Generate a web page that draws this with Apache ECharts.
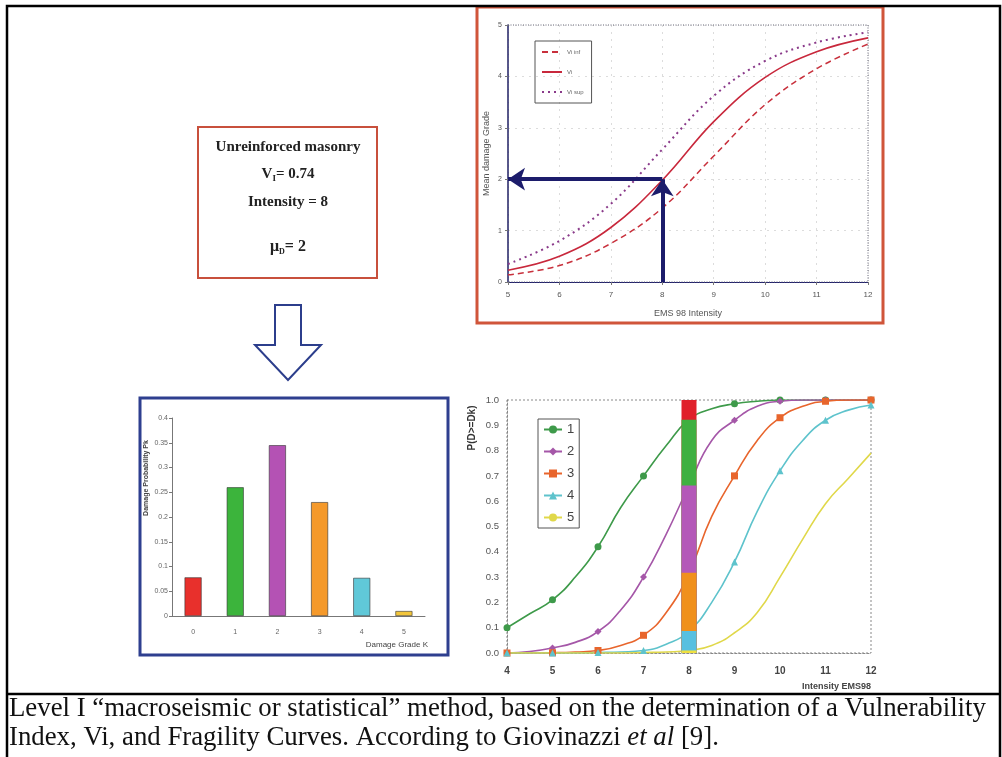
<!DOCTYPE html>
<html><head><meta charset="utf-8">
<script src="https://cdn.jsdelivr.net/npm/echarts@6/dist/echarts.min.js"></script>
<style>html,body{margin:0;padding:0;background:#fff}#c{width:1002px;height:757px}</style>
</head><body><div id="c"></div>
<script>
// ---- Top chart: mean damage grade vs EMS98 intensity ----
const intensityTop = [5, 6, 7, 8, 9, 10, 11, 12];
const viInf = [0.14, 0.32, 0.75, 1.44, 2.45, 3.45, 4.15, 4.63];
const viMid = [0.23, 0.50, 1.06, 1.98, 3.12, 3.98, 4.48, 4.75];
const viSup = [0.35, 0.80, 1.52, 2.58, 3.62, 4.30, 4.66, 4.86];
const targetIntensity = 8;
const targetMeanDamage = 2;

// ---- Damage probability histogram ----
const grades = ['0', '1', '2', '3', '4', '5'];
const pk = [0.078, 0.26, 0.345, 0.23, 0.077, 0.01];

// ---- Fragility curves P(D>=Dk), read every half intensity ----
const intensityFrag = [4, 4.5, 5, 5.5, 6, 6.5, 7, 7.5, 8, 8.5, 9, 9.5, 10, 10.5, 11, 11.5, 12];
const frag1 = [0.10, 0.155, 0.21, 0.30, 0.42, 0.575, 0.70, 0.82, 0.922, 0.965, 0.985, 0.995, 1.0, 1.0, 1.0, 1.0, 1.0];
const frag2 = [0.0, 0.006, 0.02, 0.042, 0.085, 0.17, 0.30, 0.47, 0.662, 0.84, 0.92, 0.975, 0.995, 1.0, 1.0, 1.0, 1.0];
const frag3 = [0.0, 0.0, 0.001, 0.004, 0.01, 0.03, 0.07, 0.16, 0.317, 0.54, 0.70, 0.84, 0.93, 0.975, 0.995, 1.0, 1.0];
const frag4 = [0.0, 0.0, 0.0, 0.0, 0.002, 0.004, 0.01, 0.035, 0.087, 0.20, 0.36, 0.56, 0.72, 0.84, 0.92, 0.96, 0.98];
const frag5 = [0.0, 0.0, 0.0, 0.0, 0.0, 0.0, 0.002, 0.004, 0.01, 0.03, 0.08, 0.16, 0.30, 0.45, 0.59, 0.69, 0.79];

const chart = echarts.init(document.getElementById('c'), null, {renderer: 'canvas'});

const G0 = {left: 508, top: 25, width: 360, height: 257};
const G1 = {left: 172, top: 418, width: 253, height: 198};
const G2 = {left: 507, top: 400, width: 364, height: 253};

const pair = (xs, ys) => xs.map((x, i) => [x, ys[i]]);
const navy = '#1c1c6b';
const barCols = ['#e8302c', '#3cb43c', '#b452b4', '#f5992a', '#60c8d8', '#f2c53a'];
const stackCols = ['#e0202a', '#3fb040', '#b458b8', '#f0901c', '#58c0e0', '#f0e040'];
const fragCols = ['#3e9a4a', '#a557a8', '#e8652c', '#5ec3cc', '#e0d84a'];
const fragSyms = ['circle', 'diamond', 'rect', 'triangle', 'none'];
const fragData = [frag1, frag2, frag3, frag4, frag5];

const series = [];
// top chart curves
series.push({name: 'Vi inf', type: 'line', xAxisIndex: 0, yAxisIndex: 0, smooth: 0.4, symbol: 'none',
  data: pair(intensityTop, viInf), lineStyle: {color: '#c8303c', width: 1.5, type: [6, 4]}, itemStyle: {color: '#c8303c'}});
series.push({name: 'Vi', type: 'line', xAxisIndex: 0, yAxisIndex: 0, smooth: 0.4, symbol: 'none',
  data: pair(intensityTop, viMid), lineStyle: {color: '#c8283c', width: 1.6}, itemStyle: {color: '#c8283c'},
  markLine: {silent: true, symbol: ['none', 'arrow'], symbolSize: 17, label: {show: false},
    lineStyle: {color: navy, width: 4, type: 'solid'},
    emphasis: {disabled: true},
    data: [
      [{coord: [targetIntensity, targetMeanDamage]}, {coord: [intensityTop[0], targetMeanDamage]}],
      [{coord: [targetIntensity, 0]}, {coord: [targetIntensity, targetMeanDamage]}]
    ]}});
series.push({name: 'Vi sup', type: 'line', xAxisIndex: 0, yAxisIndex: 0, smooth: 0.4, symbol: 'none',
  data: pair(intensityTop, viSup), lineStyle: {color: '#8a3a8a', width: 2, type: [2, 4]}, itemStyle: {color: '#8a3a8a'}});

// histogram
series.push({name: 'Pk', type: 'bar', xAxisIndex: 1, yAxisIndex: 1, barWidth: 17,
  data: pk.map((v, i) => ({value: v, itemStyle: {color: barCols[i]}})),
  itemStyle: {borderColor: '#333', borderWidth: 0.6}});

// fragility curves (markers on whole intensities)
fragData.forEach((d, k) => {
  series.push({name: String(k + 1), type: 'line', xAxisIndex: 2, yAxisIndex: 2, smooth: 0.5,
    symbol: fragSyms[k], symbolSize: 7, showSymbol: true, z: 2,
    data: intensityFrag.map((x, i) => Number.isInteger(x) ? [x, d[i]] : {value: [x, d[i]], symbol: 'none'}),
    lineStyle: {color: fragCols[k], width: 1.6}, itemStyle: {color: fragCols[k]}});
});
// bar at the target intensity split by histogram probabilities: overlapping bars of P(D>=k)
for (let g = 0; g <= 5; g++) {
  const cum = pk.slice(g).reduce((a, b) => a + b, 0);
  series.push({name: 'D' + g, type: 'bar', xAxisIndex: 2, yAxisIndex: 2, barWidth: 15, barGap: '-100%', z: 4,
    data: [[targetIntensity, Math.min(1, cum)]], itemStyle: {color: stackCols[g]}});
}

const labelGrey = '#555';
const option = {
  animation: false,
  backgroundColor: '#fff',
  grid: [
    Object.assign({}, G0),
    Object.assign({}, G1),
    Object.assign({}, G2)
  ],
  legend: [
    {data: ['Vi inf', 'Vi', 'Vi sup'], orient: 'vertical', left: 535, top: 41, padding: [8, 8, 8, 6], itemGap: 14,
      itemWidth: 20, itemHeight: 6, borderColor: '#555', borderWidth: 1, selectedMode: false,
      itemStyle: {opacity: 0},
      textStyle: {fontSize: 6, color: '#666', fontFamily: 'Liberation Sans'}},
    {data: ['1', '2', '3', '4', '5'], orient: 'vertical', left: 538, top: 419, padding: [4, 5, 4, 5], itemGap: 9,
      itemWidth: 18, itemHeight: 10, borderColor: '#555', borderWidth: 1, selectedMode: false,
      textStyle: {fontSize: 13, color: '#444', fontFamily: 'Liberation Sans'}}
  ],
  xAxis: [
    {gridIndex: 0, type: 'value', min: 5, max: 12, interval: 1,
      name: 'EMS 98 Intensity', nameLocation: 'middle', nameGap: 27,
      nameTextStyle: {fontSize: 9, color: labelGrey, fontFamily: 'Liberation Sans'},
      axisLine: {lineStyle: {color: navy, width: 1.2}}, axisTick: {length: 3, lineStyle: {color: '#777'}},
      axisLabel: {fontSize: 8, color: labelGrey, margin: 9, fontFamily: 'Liberation Sans'},
      splitLine: {show: true, lineStyle: {color: '#dcdcdc', type: [2, 5]}}},
    {gridIndex: 1, type: 'category', data: grades,
      axisLine: {lineStyle: {color: '#777', width: 1}}, axisTick: {show: false},
      axisLabel: {fontSize: 7, color: '#666', margin: 13, fontFamily: 'Liberation Sans'}},
    {gridIndex: 2, type: 'value', min: 4, max: 12, interval: 1,
      axisLine: {lineStyle: {color: '#888', width: 1, type: [2, 2]}}, axisTick: {show: false},
      axisLabel: {fontSize: 10, color: '#444', margin: 13, fontWeight: 'bold', fontFamily: 'Liberation Sans'},
      splitLine: {show: false}}
  ],
  yAxis: [
    {gridIndex: 0, type: 'value', min: 0, max: 5, interval: 1,
      name: 'Mean damage Grade', nameLocation: 'middle', nameGap: 17, nameRotate: 90,
      nameTextStyle: {fontSize: 9, color: labelGrey, fontFamily: 'Liberation Sans'},
      axisLine: {show: true, lineStyle: {color: navy, width: 1.5}}, axisTick: {show: true, length: 3, lineStyle: {color: '#777'}},
      axisLabel: {fontSize: 7, color: labelGrey, margin: 6, fontFamily: 'Liberation Sans'},
      splitLine: {show: true, lineStyle: {color: '#dcdcdc', type: [2, 5]}}},
    {gridIndex: 1, type: 'value', min: 0, max: 0.4, interval: 0.05,
      axisLine: {show: true, lineStyle: {color: '#777', width: 1}}, axisTick: {show: true, length: 3, lineStyle: {color: '#777'}},
      axisLabel: {fontSize: 7, color: '#666', margin: 4, fontFamily: 'Liberation Sans'},
      splitLine: {show: false}},
    {gridIndex: 2, type: 'value', min: 0, max: 1, interval: 0.1,
      axisLine: {show: true, lineStyle: {color: '#888', width: 1, type: [2, 2]}}, axisTick: {show: false},
      axisLabel: {fontSize: 9.5, color: '#555', margin: 8, fontFamily: 'Liberation Sans',
        formatter: v => v.toFixed(1)},
      splitLine: {show: false}}
  ],
  series: series,
  graphic: [
    // outer table frame
    {type: 'rect', shape: {x: 7, y: 6, width: 993, height: 760}, style: {fill: 'none', stroke: '#000', lineWidth: 2.5}, z: 100},
    {type: 'line', shape: {x1: 7, y1: 694, x2: 1000, y2: 694}, style: {stroke: '#000', lineWidth: 2.5}, z: 100},
    // top chart frame and plot border
    {type: 'rect', shape: {x: 477, y: 7, width: 406, height: 316}, style: {fill: 'none', stroke: '#d0553a', lineWidth: 3}, z: 50},
    {type: 'rect', shape: {x: G0.left, y: G0.top, width: G0.width, height: G0.height},
      style: {fill: 'none', stroke: '#667', lineWidth: 1, lineDash: [1, 1.5]}, z: 1, silent: true},
    // text box
    {type: 'rect', shape: {x: 198, y: 127, width: 179, height: 151}, style: {fill: '#fff', stroke: '#c8503c', lineWidth: 2}, z: 50},
    {type: 'text', x: 288, y: 147, z: 51, style: {text: 'Unreinforced masonry', align: 'center', verticalAlign: 'middle',
      font: 'bold 15px "Liberation Serif"', fill: '#222'}},
    {type: 'text', x: 288, y: 174, z: 51, style: {text: '{a|V}{s|I}{a|= 0.74}', align: 'center', verticalAlign: 'middle',
      rich: {a: {font: 'bold 15px "Liberation Serif"', fill: '#222'}, s: {font: 'bold 9px "Liberation Serif"', fill: '#222', padding: [9, 0, 0, 0]}}}},
    {type: 'text', x: 288, y: 202, z: 51, style: {text: 'Intensity = 8', align: 'center', verticalAlign: 'middle',
      font: 'bold 15px "Liberation Serif"', fill: '#222'}},
    {type: 'text', x: 288, y: 247, z: 51, style: {text: '{a|\u03bc}{s|D}{a|= 2}', align: 'center', verticalAlign: 'middle',
      rich: {a: {font: 'bold 16px "Liberation Serif"', fill: '#222'}, s: {font: 'bold 8px "Liberation Serif"', fill: '#222', padding: [9, 0, 0, 0]}}}},
    // hollow down arrow
    {type: 'polygon', z: 50, shape: {points: [[275, 305], [301, 305], [301, 345], [321, 345], [288, 380], [255, 345], [275, 345]]},
      style: {fill: '#fff', stroke: '#2c3e8c', lineWidth: 2}},
    // histogram frame + titles
    {type: 'rect', shape: {x: 140, y: 398, width: 308, height: 257}, style: {fill: 'none', stroke: '#2e3f8f', lineWidth: 3}, z: 50},
    {type: 'text', x: 146, y: 478, rotation: Math.PI / 2, z: 51, style: {text: 'Damage Probability Pk', align: 'center', verticalAlign: 'middle',
      font: 'bold 7px "Liberation Sans"', fill: '#444'}},
    {type: 'text', x: 428, y: 645, z: 51, style: {text: 'Damage Grade K', align: 'right', verticalAlign: 'middle',
      font: '8px "Liberation Sans"', fill: '#444'}},
    // fragility plot border and titles
    {type: 'rect', shape: {x: G2.left, y: G2.top, width: G2.width, height: G2.height},
      style: {fill: 'none', stroke: '#888', lineWidth: 1, lineDash: [2, 2]}, z: 1, silent: true},
    {type: 'text', x: 472, y: 428, rotation: Math.PI / 2, z: 51, style: {text: 'P(D>=Dk)', align: 'center', verticalAlign: 'middle',
      font: 'bold 10px "Liberation Sans"', fill: '#333'}},
    {type: 'text', x: 871, y: 687, z: 51, style: {text: 'Intensity EMS98', align: 'right', verticalAlign: 'middle',
      font: 'bold 9px "Liberation Sans"', fill: '#444'}},
    // caption
    {type: 'text', x: 9, y: 709, z: 51, style: {text: 'Level I \u201cmacroseismic or statistical\u201d method, based on the determination of a Vulnerability',
      align: 'left', verticalAlign: 'middle', font: '26.8px "Liberation Serif"', fill: '#111'}},
    {type: 'text', x: 9, y: 738, z: 51, style: {text: '{n|Index, Vi, and Fragility Curves. According to Giovinazzi }{i|et al}{n| [9].}',
      align: 'left', verticalAlign: 'middle',
      rich: {n: {font: '26.8px "Liberation Serif"', fill: '#111'}, i: {font: 'italic 26.8px "Liberation Serif"', fill: '#111'}}}}
  ]
};
chart.setOption(option);
</script>
</body></html>
